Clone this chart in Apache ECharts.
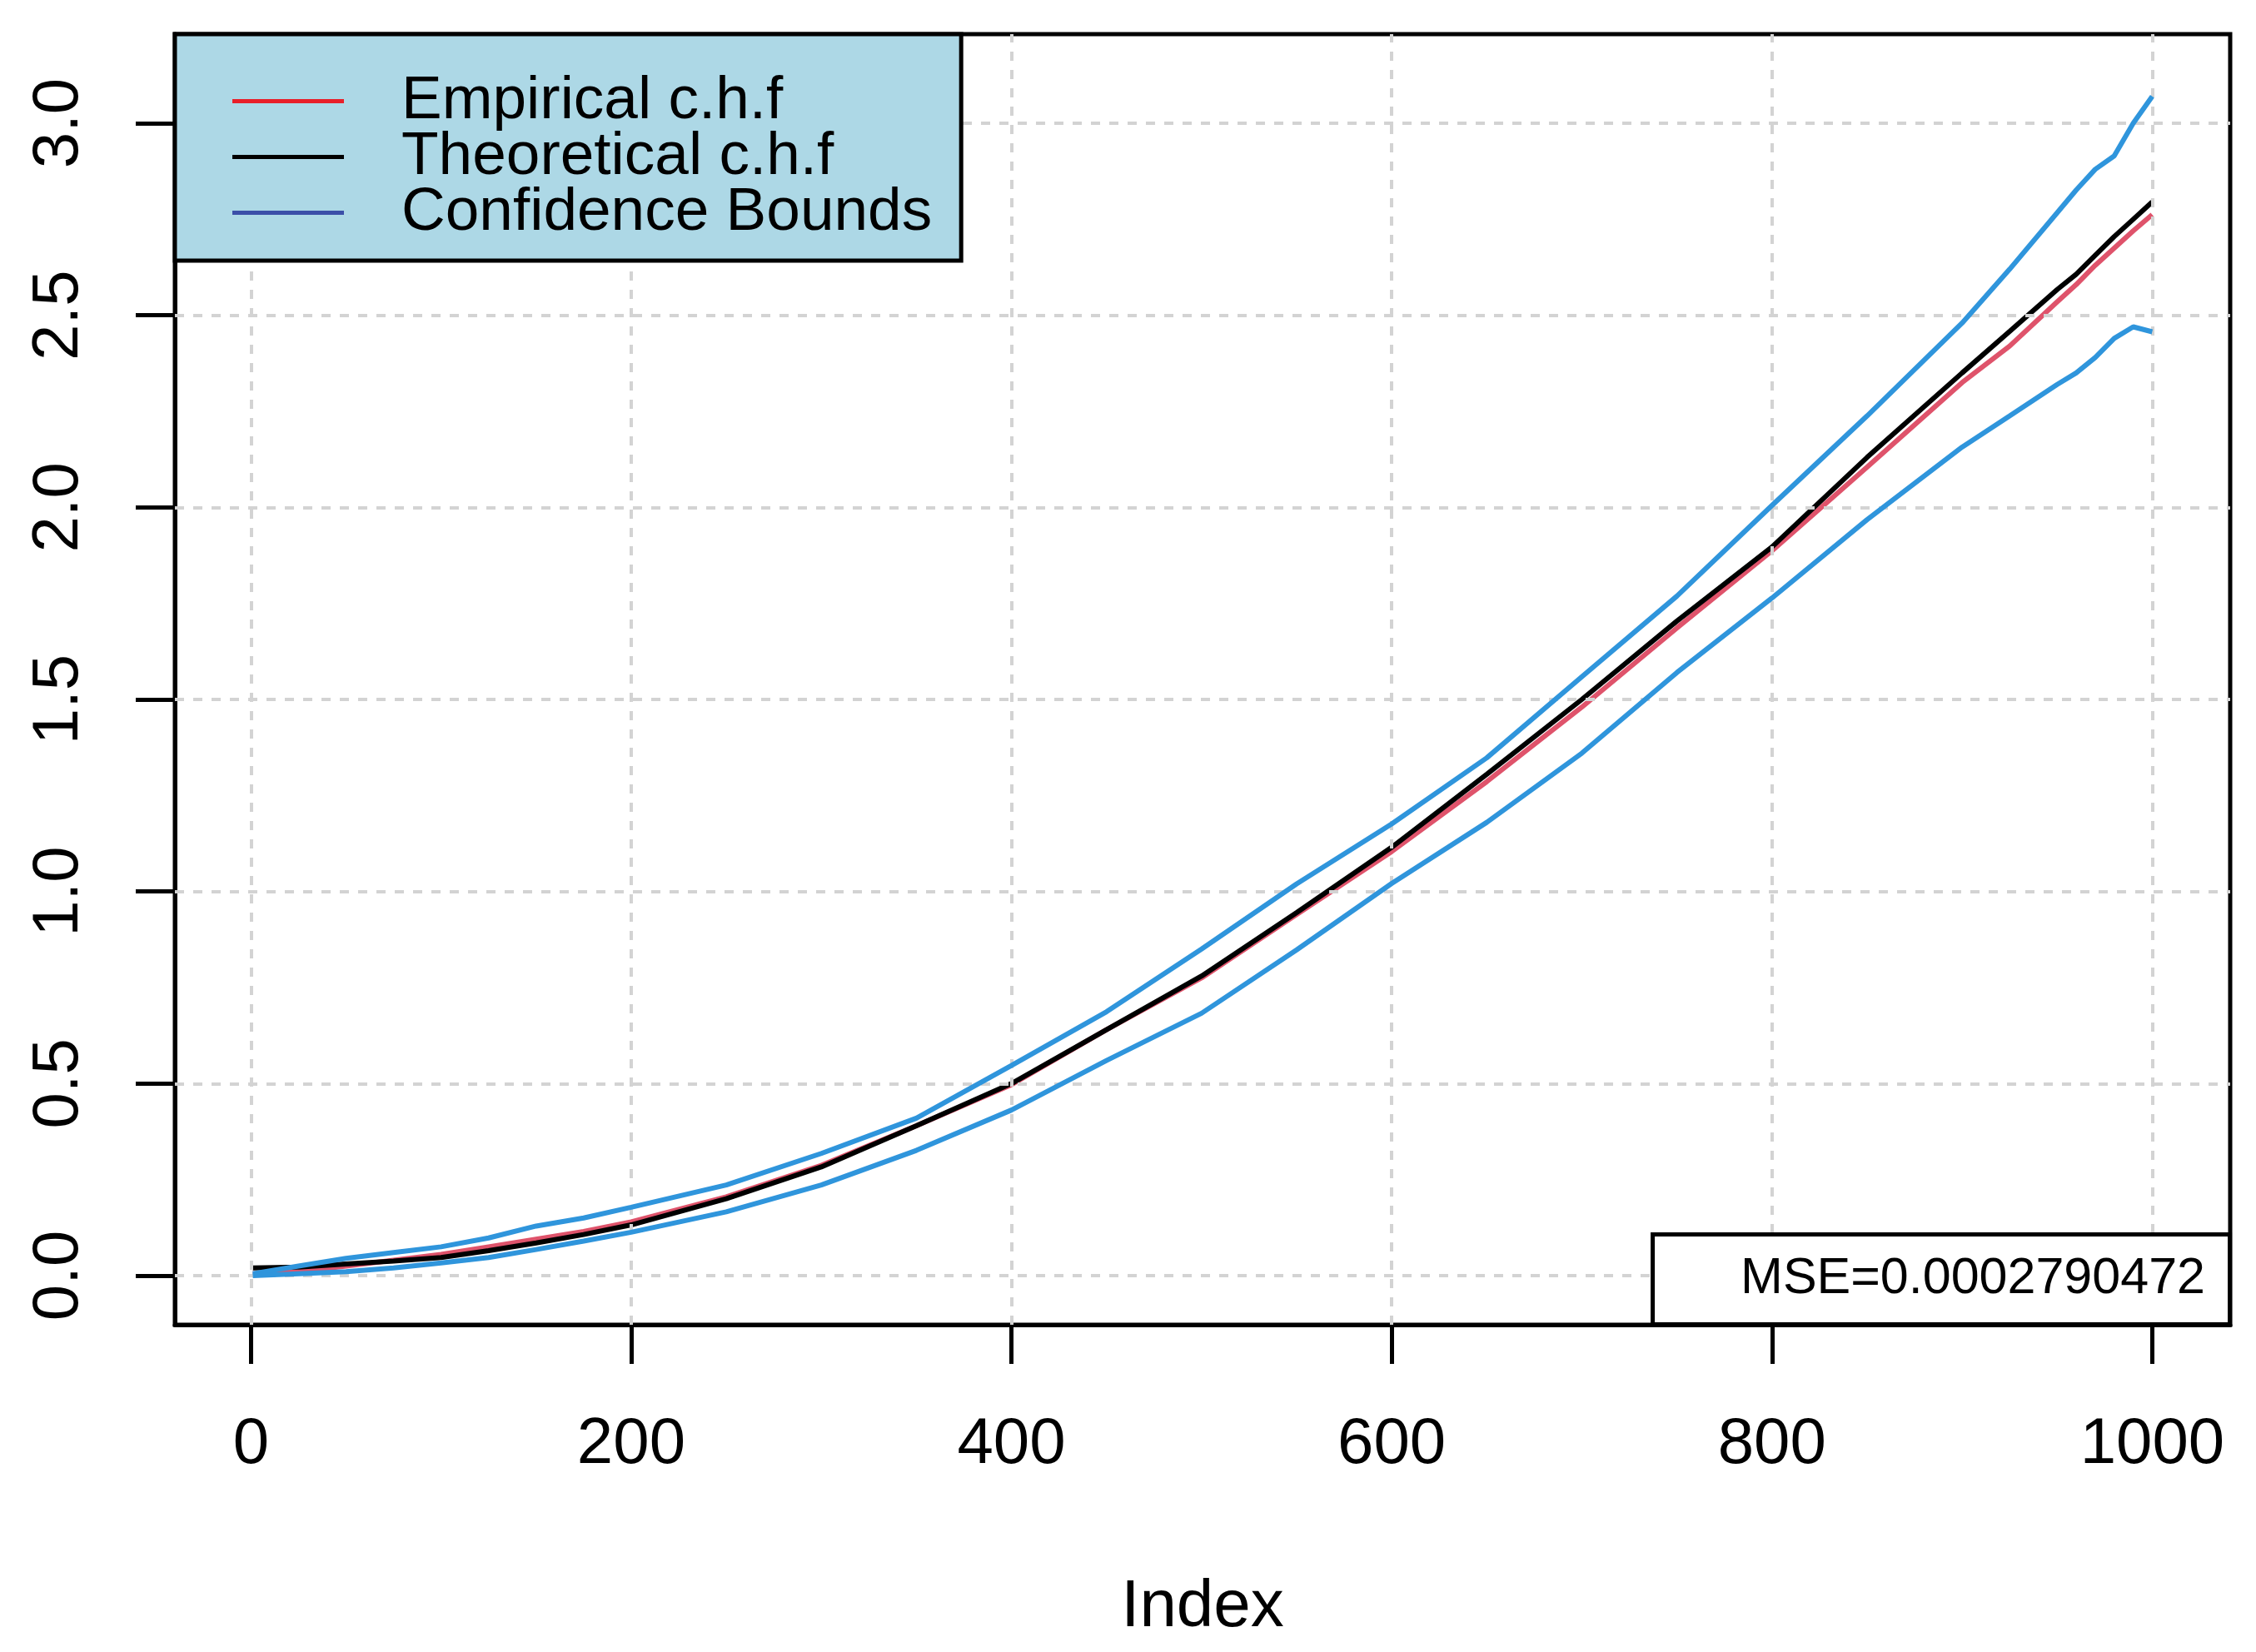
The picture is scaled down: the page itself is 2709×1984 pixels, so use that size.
<!DOCTYPE html>
<html>
<head>
<meta charset="utf-8">
<script src="https://cdn.jsdelivr.net/npm/echarts@6/dist/echarts.min.js"></script>
<style>
  html, body { margin: 0; padding: 0; background: #fff; }
  #chart { width: 2709px; height: 1984px; }
</style>
</head>
<body>
<div id="chart"></div>
<script>
// values
const index = [1, 25, 50, 75, 100, 125, 150, 175, 200, 250, 300, 350, 400, 450, 500, 550, 600, 650, 700, 750, 800, 850, 900, 925, 950, 960, 970, 980, 990, 1000]
const empirical = [0.005, 0.01, 0.025, 0.04, 0.055, 0.075, 0.095, 0.115, 0.14, 0.205, 0.287, 0.39, 0.497, 0.64, 0.775, 0.94, 1.104, 1.286, 1.48, 1.686, 1.887, 2.105, 2.325, 2.42, 2.535, 2.58, 2.63, 2.675, 2.72, 2.762]
const theoretical = [0.02, 0.022, 0.03, 0.038, 0.047, 0.065, 0.085, 0.107, 0.132, 0.2, 0.283, 0.39, 0.5, 0.64, 0.78, 0.945, 1.115, 1.305, 1.5, 1.704, 1.897, 2.13, 2.35, 2.458, 2.567, 2.607, 2.656, 2.705, 2.75, 2.795]
const upper = [0.005, 0.025, 0.045, 0.06, 0.075, 0.098, 0.129, 0.15, 0.178, 0.236, 0.318, 0.41, 0.547, 0.687, 0.85, 1.02, 1.176, 1.348, 1.559, 1.769, 2.005, 2.238, 2.48, 2.62, 2.767, 2.826, 2.88, 2.915, 3.0, 3.07]
const lower = [0.0, 0.005, 0.01, 0.02, 0.033, 0.047, 0.068, 0.09, 0.113, 0.166, 0.236, 0.326, 0.431, 0.56, 0.683, 0.848, 1.021, 1.18, 1.36, 1.57, 1.764, 1.968, 2.157, 2.238, 2.32, 2.35, 2.39, 2.44, 2.47, 2.457]
const xTicks = [0, 200, 400, 600, 800, 1000]
const yTicks = [0, 0.5, 1, 1.5, 2, 2.5, 3]
const mseText = 'MSE=0.0002790472'

const font = 'Liberation Sans, Arial, sans-serif'
const pairs = (vals) => index.map((x, i) => [x, vals[i]])

const chart = echarts.init(document.getElementById('chart'))

const gridLine = { type: [11, 11], color: '#D3D3D3', width: 4 }

const option = {
  backgroundColor: '#fff',
  animation: false,
  grid: {
    left: 210, right: 31, top: 41, bottom: 393,
    show: true, borderColor: '#000', borderWidth: 5
  },
  title: {
    text: mseText,
    right: 31, bottom: 393,
    z: 10,
    backgroundColor: '#fff',
    borderColor: '#000',
    borderWidth: 5,
    padding: [24, 30, 24, 106],
    textStyle: { fontFamily: font, fontSize: 61, fontWeight: 'normal', color: '#000' }
  },
  legend: {
    left: 210, top: 41,
    z: 10,
    orient: 'vertical',
    backgroundColor: '#ADD8E6',
    borderColor: '#000',
    borderWidth: 5,
    padding: [44, 35, 21, 69],
    itemGap: -6,
    icon: 'rect',
    itemWidth: 134,
    itemHeight: 5,
    textStyle: { fontFamily: font, fontSize: 73, color: '#000', padding: [0, 0, 0, 64] },
    data: [
      { name: 'Empirical c.h.f', itemStyle: { color: '#E8202A' } },
      { name: 'Theoretical c.h.f', itemStyle: { color: '#000' } },
      { name: 'Confidence Bounds', itemStyle: { color: '#3B4FA8' } }
    ]
  },
  xAxis: {
    type: 'value',
    min: -40, max: 1041,
    name: 'Index',
    nameLocation: 'middle',
    nameGap: 300,
    nameTextStyle: { fontFamily: font, fontSize: 80, color: '#000' },
    axisLine: { show: true, onZero: false, lineStyle: { color: '#000', width: 5 } },
    axisTick: { show: true, inside: false, length: 47, customValues: xTicks, lineStyle: { color: '#000', width: 5 } },
    axisLabel: {
      fontFamily: font, fontSize: 78, color: '#000', margin: 105,
      customValues: xTicks,
      formatter: (v) => String(v)
    },
    splitLine: { show: false }
  },
  yAxis: {
    type: 'value',
    min: -0.128, max: 3.232,
    axisLine: { show: true, onZero: false, lineStyle: { color: '#000', width: 5 } },
    axisTick: { show: true, inside: false, length: 47, customValues: yTicks, lineStyle: { color: '#000', width: 5 } },
    axisLabel: {
      fontFamily: font, fontSize: 78, color: '#000', margin: 100, rotate: 90,
      customValues: yTicks,
      formatter: (v) => v.toFixed(1)
    },
    splitLine: { show: false }
  },
  series: [
    {
      name: 'grid', type: 'line', data: [], silent: true, z: 1,
      markLine: {
        silent: true, symbol: 'none', label: { show: false },
        lineStyle: gridLine,
        data: yTicks.map(v => ({ yAxis: v })).concat(xTicks.map(v => ({ xAxis: v })))
      }
    },
    {
      name: 'Empirical c.h.f', type: 'line', data: pairs(empirical), symbol: 'none', z: 3,
      lineStyle: { color: '#DF536B', width: 6 }, itemStyle: { color: '#DF536B' }
    },
    {
      name: 'Theoretical c.h.f', type: 'line', data: pairs(theoretical), symbol: 'none', z: 4,
      lineStyle: { color: '#000', width: 6 }, itemStyle: { color: '#000' }
    },
    {
      name: 'Confidence Bounds', type: 'line', data: pairs(upper), symbol: 'none', z: 5,
      lineStyle: { color: '#2F95DC', width: 6 }, itemStyle: { color: '#2F95DC' }
    },
    {
      name: 'Confidence Bounds', type: 'line', data: pairs(lower), symbol: 'none', z: 5,
      lineStyle: { color: '#2F95DC', width: 6 }, itemStyle: { color: '#2F95DC' }
    }
  ]
}

option && chart.setOption(option)

window.addEventListener('resize', function () {
  chart.resize()
})
</script>
</body>
</html>
